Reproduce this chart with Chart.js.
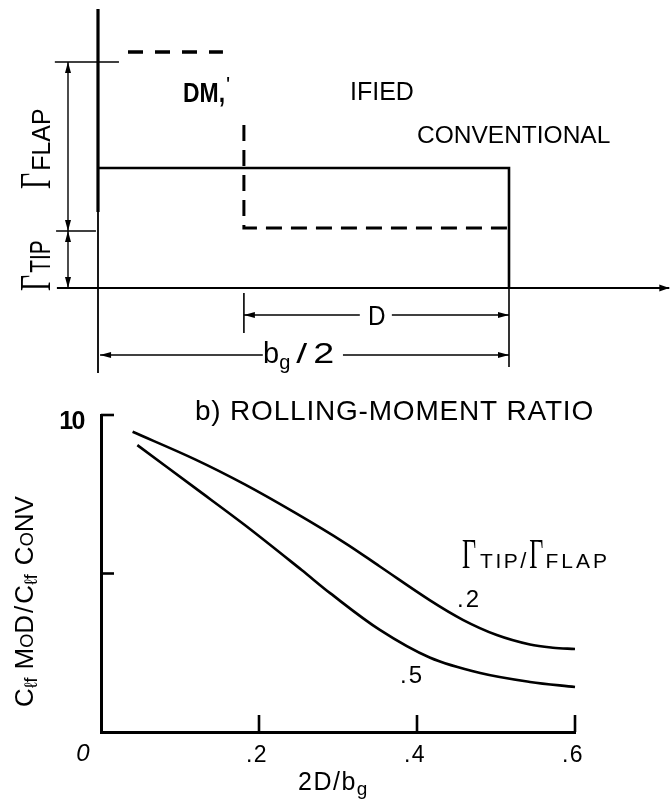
<!DOCTYPE html>
<html><head><meta charset="utf-8">
<script src="https://cdn.jsdelivr.net/npm/chart.js@4.4.1/dist/chart.umd.min.js"></script>
<style>
html,body{margin:0;padding:0;background:#fff;overflow:hidden;}
#wrap{position:relative;width:670px;height:808px;}
canvas{position:absolute;left:0;top:0;}
</style></head><body>
<div id="wrap"><canvas id="c1" width="670" height="808"></canvas><canvas id="c2" width="670" height="808"></canvas></div>
<script>
// ===== (a) schematic circulation distribution =====
// span: fraction of b_g/2 ; gamma: circulation in units of the conventional level
const convSpan      = [0, 1, 1];
const convGamma     = [1, 1, 0];
const modInnerSpan  = [0.073, 0.304];
const modInnerGamma = [1.967, 1.967];
const modOuterSpan  = [0.355, 0.355, 1];
const modOuterGamma = [1.358, 0.5, 0.5];
const axisSpan      = [0, 0];
const axisGammaHi   = [2.325, 0.633];
const axisGammaLo   = [0.633, -0.708];
const baseSpan      = [-0.1, 1.39];
const baseGamma     = [0, 0];
const tipEdgeSpan   = [1, 1];
const tipEdgeGamma  = [0, -0.658];
const dTickSpan     = [0.355, 0.355];
const dTickGamma    = [-0.042, -0.375];
const flapTickSpan  = [-0.105, 0.051];
const flapTickGamma = [1.883, 1.883];
const tipTickSpan   = [-0.102, -0.005];
const tipTickGamma  = [0.475, 0.475];
const dimSpan       = [-0.073, -0.073];
const flapDimGamma  = [1.883, 0.475];
const tipDimGamma   = [0.475, 0];
const dLeftSpan     = [0.355, 0.637];
const dRightSpan    = [0.715, 1.0];
const dGamma        = [-0.225, -0.225];
const bLeftSpan     = [0.005, 0.401];
const bRightSpan    = [0.596, 1.0];
const bGamma        = [-0.558, -0.558];

// ===== (b) rolling-moment ratio =====
const ratioX_02 = [0.040, 0.119, 0.182, 0.246, 0.309, 0.353, 0.416, 0.458, 0.501, 0.543, 0.572, 0.600];
const ratioY_02 = [0.947, 0.860, 0.781, 0.691, 0.596, 0.522, 0.416, 0.354, 0.306, 0.276, 0.266, 0.262];
const ratioX_05 = [0.046, 0.119, 0.182, 0.254, 0.290, 0.353, 0.416, 0.480, 0.543, 0.600];
const ratioY_05 = [0.905, 0.770, 0.653, 0.511, 0.438, 0.322, 0.235, 0.186, 0.158, 0.142];
const xTickValues = [0, 0.2, 0.4, 0.6];
const xTickLabels = ['0', '.2', '.4', '.6'];
const yTickValues = [0.5, 1.0];
const yTickLabels = ['', '10'];

const pts = (xs, ys) => xs.map((x, i) => ({x, y: ys[i]}));

function seg(xs, ys, width, extra) {
  return Object.assign({data: pts(xs, ys), showLine: true, borderColor: '#000', borderWidth: width,
    pointRadius: 0, tension: 0, clip: false, fill: false}, extra || {});
}

function drawRich(ctx, x, y, rot, parts) {
  ctx.save();
  ctx.translate(x, y);
  if (rot) ctx.rotate(rot);
  let cx = 0;
  for (const p of parts) {
    ctx.font = p.font;
    ctx.letterSpacing = (p.ls || 0) + 'px';
    const sx = p.sx || 1;
    cx += (p.dx || 0);
    ctx.save();
    ctx.translate(cx, p.dy || 0);
    ctx.scale(sx, 1);
    ctx.fillStyle = '#000';
    ctx.textBaseline = 'alphabetic';
    ctx.textAlign = 'left';
    ctx.fillText(p.t, 0, 0);
    const w = ctx.measureText(p.t).width;
    ctx.restore();
    cx += w * sx + (p.gap || 0);
  }
  ctx.restore();
}

const arrowPlugin = {
  id: 'arrows',
  afterDatasetsDraw(chart) {
    const ctx = chart.ctx;
    chart.data.datasets.forEach((ds, i) => {
      if (!ds.arrows) return;
      const el = chart.getDatasetMeta(i).data;
      const draw = (tip, from) => {
        const ang = Math.atan2(tip.y - from.y, tip.x - from.x);
        const L = ds.arrowLen || 11, W = ds.arrowW || 3;
        ctx.save(); ctx.translate(tip.x, tip.y); ctx.rotate(ang);
        ctx.beginPath(); ctx.moveTo(0, 0); ctx.lineTo(-L, -W); ctx.lineTo(-L, W); ctx.closePath();
        ctx.fillStyle = '#000'; ctx.fill(); ctx.restore();
      };
      if (ds.arrows.includes('start')) draw(el[0], el[1]);
      if (ds.arrows.includes('end')) draw(el[el.length - 1], el[el.length - 2]);
    });
  }
};

const SANS = '"Liberation Sans", Arial, sans-serif';
const SERIF = '"Liberation Serif", "Times New Roman", serif';
const GAMMA = (sz, sx) => ({t: 'Γ', font: sz + 'px ' + SERIF, sx: sx, gap: 2});

const topText = {
  id: 'topText',
  afterDraw(chart) {
    const ctx = chart.ctx;
    drawRich(ctx, 183, 102, 0, [{t: 'DM,', font: 'bold 27px ' + SANS, sx: 0.85}]);
    drawRich(ctx, 226, 92, 0, [{t: "'", font: '22px ' + SANS}]);
    drawRich(ctx, 350, 100, 0, [{t: 'IFIED', font: '25px ' + SANS}]);
    drawRich(ctx, 417, 143, 0, [{t: 'CONVENTIONAL', font: '24.5px ' + SANS}]);
    drawRich(ctx, 368, 325, 0, [{t: 'D', font: '27px ' + SANS, sx: 0.9}]);
    drawRich(ctx, 263, 363, 0, [
      {t: 'b', font: '29px ' + SANS},
      {t: 'g', font: '20px ' + SANS, dy: 6, gap: 6},
      {t: '/', font: '28px ' + SANS, sx: 1.4, gap: 6},
      {t: '2', font: '29px ' + SANS, sx: 1.3}]);
    drawRich(ctx, 50, 189, -Math.PI / 2, [GAMMA(45, 0.62), {t: 'FLAP', font: '25px ' + SANS}]);
    drawRich(ctx, 50, 291, -Math.PI / 2, [GAMMA(45, 0.62), {t: 'TIP', font: '29px ' + SANS, sx: 0.72}]);
  }
};

new Chart(document.getElementById('c1'), {
  type: 'scatter',
  data: {datasets: [
    seg(axisSpan, axisGammaHi, 3.2),
    seg(axisSpan, axisGammaLo, 1.8),
    seg(baseSpan, baseGamma, 2, {arrows: ['end'], arrowLen: 10, arrowW: 3.5}),
    seg(convSpan, convGamma, 2.6),
    seg(modInnerSpan, modInnerGamma, 3.6, {borderDash: [15, 12]}),
    seg(modOuterSpan, modOuterGamma, 3, {borderDash: [16, 9]}),
    seg(tipEdgeSpan, tipEdgeGamma, 1.6),
    seg(dTickSpan, dTickGamma, 1.6),
    seg(flapTickSpan, flapTickGamma, 1.6),
    seg(tipTickSpan, tipTickGamma, 1.4),
    seg(dimSpan, flapDimGamma, 1.4, {arrows: ['start', 'end']}),
    seg(dimSpan, tipDimGamma, 1.4, {arrows: ['start', 'end']}),
    seg(dLeftSpan, dGamma, 1.5, {arrows: ['start']}),
    seg(dRightSpan, dGamma, 1.5, {arrows: ['end']}),
    seg(bLeftSpan, bGamma, 1.5, {arrows: ['start']}),
    seg(bRightSpan, bGamma, 1.5, {arrows: ['end']})
  ]},
  options: {
    responsive: false, animation: false, devicePixelRatio: 1,
    layout: {padding: 0},
    plugins: {legend: {display: false}, tooltip: {enabled: false}},
    scales: {
      x: {type: 'linear', display: false, min: -98 / 411, max: 572 / 411},
      y: {type: 'linear', display: false, min: -520 / 120, max: 288 / 120}
    }
  },
  plugins: [arrowPlugin, topText]
});

const bottomDecor = {
  id: 'bottomDecor',
  afterDraw(chart) {
    const ctx = chart.ctx, xs = chart.scales.x, ys = chart.scales.y;
    const x0 = xs.getPixelForValue(0), y0 = ys.getPixelForValue(0);
    ctx.save();
    ctx.strokeStyle = '#000'; ctx.lineWidth = 2.6;
    xTickValues.forEach(v => {
      if (v === 0) return;
      const px = xs.getPixelForValue(v);
      ctx.beginPath(); ctx.moveTo(px, y0); ctx.lineTo(px, y0 - 17); ctx.stroke();
    });
    yTickValues.forEach(v => {
      const py = ys.getPixelForValue(v);
      ctx.beginPath(); ctx.moveTo(x0, py); ctx.lineTo(x0 + 13, py); ctx.stroke();
    });
    ctx.restore();
    // tick labels
    ctx.save();
    ctx.fillStyle = '#000'; ctx.textAlign = 'center'; ctx.textBaseline = 'alphabetic';
    xTickValues.forEach((v, i) => {
      const px = xs.getPixelForValue(v);
      if (v === 0) {
        ctx.font = 'italic 24px ' + SANS; ctx.letterSpacing = '0px';
        ctx.fillText(xTickLabels[i], px - 18, y0 + 29);
      } else {
        ctx.font = '23px ' + SANS; ctx.letterSpacing = '1.5px';
        ctx.fillText(xTickLabels[i], px - 2, y0 + 30);
      }
    });
    ctx.textAlign = 'right';
    ctx.font = 'bold 25px ' + SANS; ctx.letterSpacing = '-1.5px';
    yTickValues.forEach((v, i) => {
      if (!yTickLabels[i]) return;
      ctx.fillText(yTickLabels[i], x0 - 17, ys.getPixelForValue(v) + 14);
    });
    ctx.restore();
    // titles and annotations
    drawRich(ctx, 195, 420, 0, [{t: 'b) ROLLING-MOMENT RATIO', font: '28px ' + SANS, ls: 0.8}]);
    drawRich(ctx, 298, 790, 0, [{t: '2D/b', font: '25px ' + SANS, ls: 1.5}, {t: 'g', font: '19px ' + SANS, dy: 5}]);
    drawRich(ctx, 462, 568, 0, [
      GAMMA(42, 0.58),
      {t: 'TIP', font: '21px ' + SANS, ls: 2.5, dx: 2},
      {t: '/', font: '22px ' + SANS, ls: 3},
      GAMMA(42, 0.58),
      {t: 'FLAP', font: '21px ' + SANS, ls: 3}]);
    drawRich(ctx, 457, 607, 0, [{t: '.2', font: '24px ' + SANS, ls: 2}]);
    drawRich(ctx, 400, 683, 0, [{t: '.5', font: '24px ' + SANS, ls: 2}]);
    drawRich(ctx, 33, 707, -Math.PI / 2, [
      {t: 'C', font: '26px ' + SANS},
      {t: 'ℓf', font: '18px ' + SANS, dy: 4, gap: 8},
      {t: 'M', font: '26px ' + SANS},
      {t: 'O', font: '18px ' + SANS},
      {t: 'D', font: '26px ' + SANS, gap: 2},
      {t: '/', font: '26px ' + SANS, gap: 2},
      {t: 'C', font: '26px ' + SANS},
      {t: 'ℓf', font: '18px ' + SANS, dy: 4, gap: 9},
      {t: 'C', font: '26px ' + SANS},
      {t: 'O', font: '18px ' + SANS},
      {t: 'NV', font: '26px ' + SANS}]);
  }
};

new Chart(document.getElementById('c2'), {
  type: 'scatter',
  data: {datasets: [
    {data: pts(ratioX_02, ratioY_02), showLine: true, borderColor: '#000', borderWidth: 2.6, pointRadius: 0,
     tension: 0.35, clip: false},
    {data: pts(ratioX_05, ratioY_05), showLine: true, borderColor: '#000', borderWidth: 2.6, pointRadius: 0,
     tension: 0.35, clip: false}
  ]},
  options: {
    responsive: false, animation: false, devicePixelRatio: 1,
    layout: {padding: {left: 101, right: 95, top: 415, bottom: 76}},
    plugins: {legend: {display: false}, tooltip: {enabled: false}},
    scales: {
      x: {type: 'linear', min: 0, max: 0.6, grid: {display: false, drawTicks: false, tickLength: 0},
          border: {display: true, width: 3, color: '#000'}, ticks: {display: false, stepSize: 0.2, padding: 0}},
      y: {type: 'linear', min: 0, max: 1, grid: {display: false, drawTicks: false, tickLength: 0},
          border: {display: true, width: 3, color: '#000'}, ticks: {display: false, stepSize: 0.5, padding: 0}}
    }
  },
  plugins: [bottomDecor]
});
</script>
</body></html>
